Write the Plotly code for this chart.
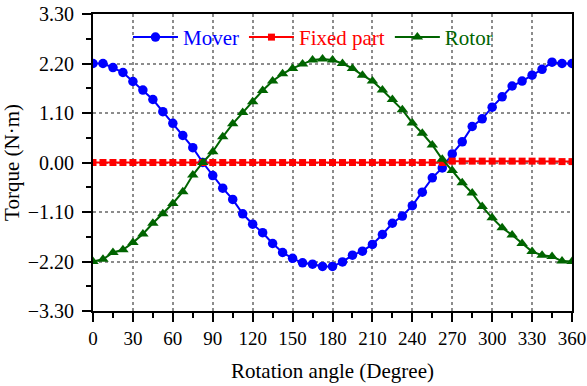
import plotly.graph_objects as go

angles = [0, 7.5, 15, 22.5, 30, 37.5, 45, 52.5, 60, 67.5, 75, 82.5, 90, 97.5, 105, 112.5,
          120, 127.5, 135, 142.5, 150, 157.5, 165, 172.5, 180, 187.5, 195, 202.5, 210,
          217.5, 225, 232.5, 240, 247.5, 255, 262.5, 270, 277.5, 285, 292.5, 300, 307.5,
          315, 322.5, 330, 337.5, 345, 352.5, 360]

mover = [2.20, 2.20, 2.11, 2.00, 1.80, 1.61, 1.40, 1.13, 0.87, 0.60, 0.33, 0.00, -0.29,
         -0.57, -0.82, -1.14, -1.37, -1.56, -1.80, -2.00, -2.13, -2.23, -2.26, -2.31, -2.31,
         -2.21, -2.06, -1.97, -1.82, -1.60, -1.35, -1.19, -0.96, -0.66, -0.34, -0.12, 0.19,
         0.46, 0.80, 0.97, 1.23, 1.46, 1.70, 1.81, 1.94, 2.07, 2.23, 2.20, 2.20]

fixed_part = [0.00, 0.00, 0.00, 0.00, 0.00, 0.00, 0.00, 0.00, 0.00, 0.00, 0.00, 0.00, 0.00,
              0.00, 0.00, 0.00, 0.00, 0.00, 0.00, 0.00, 0.00, 0.00, 0.00, 0.00, 0.00,
              0.00, 0.00, 0.00, 0.00, 0.00, 0.00, 0.00, 0.00, 0.00, 0.00, 0.00, 0.03,
              0.03, 0.03, 0.03, 0.03, 0.03, 0.03, 0.03, 0.03, 0.03, 0.03, 0.02, 0.02]

rotor = [-2.20, -2.15, -2.00, -1.94, -1.78, -1.59, -1.35, -1.14, -0.91, -0.65, -0.28, 0.00,
         0.24, 0.57, 0.86, 1.11, 1.35, 1.60, 1.81, 1.97, 2.09, 2.19, 2.28, 2.30, 2.28, 2.20,
         2.09, 1.94, 1.81, 1.61, 1.40, 1.17, 0.88, 0.65, 0.39, 0.07, -0.18, -0.45, -0.68,
         -0.98, -1.23, -1.45, -1.61, -1.80, -1.98, -2.06, -2.09, -2.19, -2.20]

y_ticks = [-3.3, -2.2, -1.1, 0.0, 1.1, 2.2, 3.3]
x_ticks = [0, 30, 60, 90, 120, 150, 180, 210, 240, 270, 300, 330, 360]

FONT = "Liberation Serif, Times New Roman, serif"

fig = go.Figure()
fig.add_trace(go.Scatter(x=angles, y=mover, mode="lines+markers",
                         name="<span style='color:#0000FF'>Mover</span>",
                         line=dict(color="#0000FF", width=2),
                         marker=dict(symbol="circle", size=9.5, color="#0000FF")))
fig.add_trace(go.Scatter(x=angles, y=fixed_part, mode="lines+markers",
                         name="<span style='color:#FF0000'>Fixed part</span>",
                         line=dict(color="#FF0000", width=2),
                         marker=dict(symbol="square", size=7, color="#FF0000")))
fig.add_trace(go.Scatter(x=angles, y=rotor, mode="lines+markers",
                         name="<span style='color:#006400'>Rotor</span>",
                         line=dict(color="#006400", width=2),
                         marker=dict(symbol="triangle-up", size=10, color="#006400")))

axis_common = dict(
    showline=True, linecolor="black", linewidth=2, mirror=True,
    ticks="outside", tickcolor="black", tickwidth=2, ticklen=9,
    showgrid=True, gridcolor="#8c8c8c", griddash="dot", gridwidth=1.5,
    zeroline=False, automargin=False, ticklabeloverflow="allow",
    title_font=dict(family=FONT, size=21, color="black"),
)

fig.update_xaxes(range=[0, 360], tickvals=x_ticks, title_text="Rotation angle (Degree)",
                 tickfont=dict(family=FONT, size=19, color="black"),
                 minor=dict(ticks="outside", dtick=15, tick0=0, ticklen=5, tickwidth=2,
                            tickcolor="black", showgrid=False),
                 title_standoff=16, **axis_common)
fig.update_yaxes(range=[-3.3, 3.3], tickvals=y_ticks, tickformat=".2f",
                 title_text="Torque (N·m)",
                 tickfont=dict(family=FONT, size=20, color="black"),
                 ticklabelstandoff=4,
                 minor=dict(ticks="outside", dtick=0.55, tick0=0, ticklen=5, tickwidth=2,
                            tickcolor="black", showgrid=False),
                 title_standoff=7, **axis_common)

fig.update_layout(
    template="none",
    width=587, height=386,
    margin=dict(l=93, r=15, t=14, b=75, autoexpand=False),
    paper_bgcolor="white", plot_bgcolor="white",
    font=dict(family=FONT, size=19, color="black"),
    showlegend=True,
    legend=dict(orientation="h", x=0.073, y=0.99, xanchor="left", yanchor="top",
                bgcolor="rgba(0,0,0,0)", font=dict(family=FONT, size=21),
                itemwidth=45, tracegroupgap=0),
)

fig.write_html("out.html",
               config={"displayModeBar": False},
               post_script="document.body.style.margin='0';document.body.style.overflow='hidden';")
